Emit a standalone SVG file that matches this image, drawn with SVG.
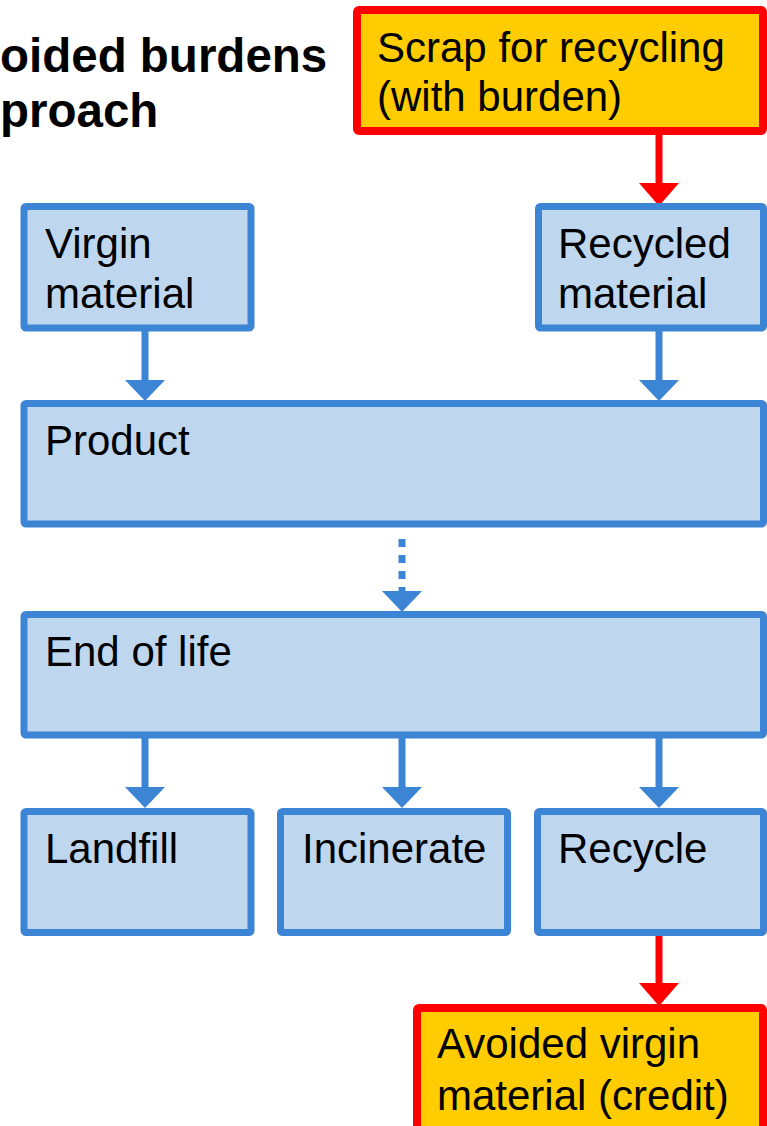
<svg xmlns="http://www.w3.org/2000/svg" width="767" height="1126" viewBox="0 0 767 1126">
<style>
.bg{fill:#ffffff}
.node{fill:#BFD6EF;stroke:#3C84D4;stroke-width:7}
.hot{fill:#FFCC00;stroke:#FF0000;stroke-width:8}
.t{font-family:"Liberation Sans",Arial,sans-serif;font-size:42px;fill:#000000}
.title{font-family:"Liberation Sans",Arial,sans-serif;font-size:47.5px;font-weight:bold;fill:#000000}
.cb{stroke:#3C84D4;stroke-width:7;fill:none}
.cr{stroke:#FF0000;stroke-width:7;fill:none}
.dash{stroke-dasharray:8 8}
</style>
<defs>
<marker id="ab" markerUnits="userSpaceOnUse" markerWidth="22" markerHeight="40" refX="0" refY="20" orient="auto" viewBox="0 0 22 40">
<path d="M0,0 L21,20 L0,40 z" fill="#3C84D4"/>
</marker>
<marker id="ar" markerUnits="userSpaceOnUse" markerWidth="24" markerHeight="40" refX="0" refY="20" orient="auto" viewBox="0 0 24 40">
<path d="M0,0 L23,20 L0,40 z" fill="#FF0000"/>
</marker>
</defs>
<rect class="bg" x="0" y="0" width="767" height="1126"/>
<g id="title">
<text class="title" x="0" y="72">oided burdens</text>
<text class="title" x="0" y="127">proach</text>
</g>
<g id="connectors">
<line class="cr" x1="659" y1="135" x2="659" y2="183" marker-end="url(#ar)"/>
<line class="cb" x1="145" y1="331" x2="145" y2="380" marker-end="url(#ab)"/>
<line class="cb" x1="659" y1="331" x2="659" y2="380" marker-end="url(#ab)"/>
<line class="cb dash" x1="402" y1="539" x2="402" y2="591" marker-end="url(#ab)"/>
<line class="cb" x1="145" y1="738" x2="145" y2="787" marker-end="url(#ab)"/>
<line class="cb" x1="402" y1="738" x2="402" y2="787" marker-end="url(#ab)"/>
<line class="cb" x1="659" y1="738" x2="659" y2="787" marker-end="url(#ab)"/>
<line class="cr" x1="659" y1="935" x2="659" y2="983" marker-end="url(#ar)"/>
</g>
<g id="scrap">
<rect class="hot" x="357" y="10" width="406" height="121" rx="2"/>
<text class="t" x="377" y="62">Scrap for recycling</text>
<text class="t" x="377" y="111">(with burden)</text>
</g>
<g id="virgin">
<rect class="node" x="24" y="206.5" width="227" height="121.5" rx="2"/>
<text class="t" x="45" y="258">Virgin</text>
<text class="t" x="45" y="308">material</text>
</g>
<g id="recycled">
<rect class="node" x="538.5" y="206.5" width="225" height="121.5" rx="2"/>
<text class="t" x="558" y="258">Recycled</text>
<text class="t" x="558" y="308">material</text>
</g>
<g id="product">
<rect class="node" x="24" y="403.5" width="739.5" height="120.5" rx="2"/>
<text class="t" x="45" y="455">Product</text>
</g>
<g id="endoflife">
<rect class="node" x="24" y="614.5" width="739.5" height="120.5" rx="2"/>
<text class="t" x="45" y="666">End of life</text>
</g>
<g id="landfill">
<rect class="node" x="24" y="811.5" width="227" height="121" rx="2"/>
<text class="t" x="45" y="863">Landfill</text>
</g>
<g id="incinerate">
<rect class="node" x="280.5" y="811.5" width="227" height="121" rx="2"/>
<text class="t" x="302" y="863">Incinerate</text>
</g>
<g id="recycle">
<rect class="node" x="537.5" y="811.5" width="226" height="121" rx="2"/>
<text class="t" x="558" y="863">Recycle</text>
</g>
<g id="avoided">
<rect class="hot" x="417" y="1008" width="346" height="140" rx="2"/>
<text class="t" x="437" y="1058">Avoided virgin</text>
<text class="t" x="437" y="1110">material (credit)</text>
</g>
</svg>
